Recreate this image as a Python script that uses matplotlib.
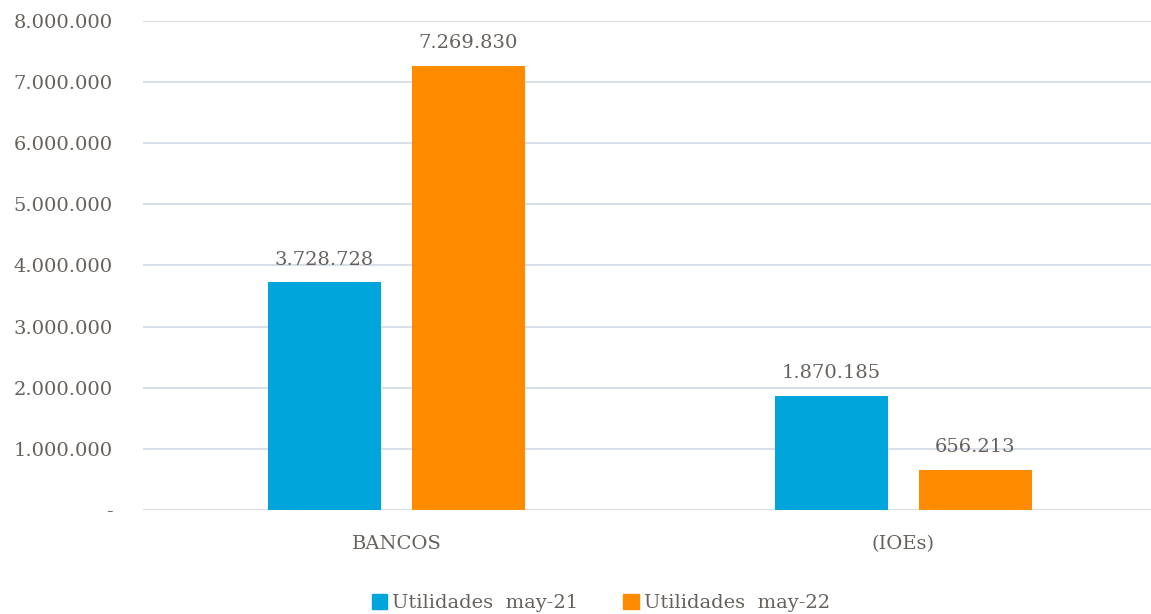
import matplotlib.pyplot as plt
import numpy as np
from matplotlib.patches import Patch

# Data
categories = ['BANCOS', '(IOEs)']
series_names = ['Utilidades  may-21', 'Utilidades  may-22']
utilidades_may21 = [3728728, 1870185]
utilidades_may22 = [7269830, 656213]
yticks = [0, 1000000, 2000000, 3000000, 4000000, 5000000, 6000000, 7000000, 8000000]

blue = '#00A5DC'
orange = '#FF8C00'
text_color = '#66615C'
grid_color = '#D5DCE6'

plt.rcParams['font.family'] = ['DejaVu Serif']


def fmt(v):
    if v == 0:
        return '-'
    return f'{v:,.0f}'.replace(',', '.')


fig = plt.figure(figsize=(11.51, 6.14), dpi=100)
ax = fig.add_axes([0.1242, 0.1694, 0.881, 0.7964])

x = np.arange(len(categories))
width = 0.223
offset = 0.142

b1 = ax.bar(x - offset, utilidades_may21, width, color=blue, zorder=3)
b2 = ax.bar(x + offset, utilidades_may22, width, color=orange, zorder=3)

for bars, vals in [(b1, utilidades_may21), (b2, utilidades_may22)]:
    for rect, v in zip(bars, vals):
        ax.text(rect.get_x() + rect.get_width() / 2, v + 220000, fmt(v),
                ha='center', va='bottom', fontsize=14, color=text_color)

ax.set_xlim(-0.5, 1.5)
ax.set_ylim(0, 8000000)
ax.set_yticks(yticks)
ax.set_yticklabels([fmt(v) for v in yticks], fontsize=14, color=text_color)
ax.set_xticks(x)
ax.set_xticklabels(categories, fontsize=14, color=text_color)
ax.tick_params(axis='both', length=0)
ax.tick_params(axis='y', pad=22)
ax.tick_params(axis='x', pad=18)

ax.grid(axis='y', color=grid_color, linewidth=1.3, zorder=0)
for s in ax.spines.values():
    s.set_visible(False)

handles = [Patch(color=blue), Patch(color=orange)]
fig.legend(handles, series_names, loc='lower center', bbox_to_anchor=(0.522, -0.026),
           ncol=2, frameon=False, fontsize=14, labelcolor=text_color,
           handlelength=0.8, handleheight=0.8, handletextpad=0.25, columnspacing=2.3)

fig.savefig('out.png', dpi=100)
